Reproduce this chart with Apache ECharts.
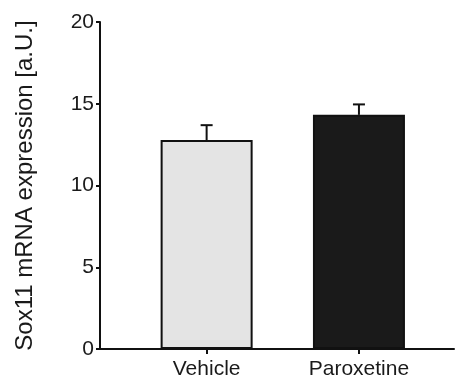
<!DOCTYPE html>
<html>
<head>
<meta charset="utf-8">
<script src="https://cdn.jsdelivr.net/npm/echarts@6/dist/echarts.min.js"></script>
<style>
html, body { margin: 0; padding: 0; background: #fff; }
#chart { width: 455px; height: 381px; }
</style>
</head>
<body>
<div id="chart"></div>
<script>
// data
var groups = ['Vehicle', 'Paroxetine'];
var groupPos = [1, 2];
var means = [12.78, 14.32];
var sem = [0.91, 0.64];
var fills = ['#e4e4e4', '#1a1a1a'];
var yTicks = [0, 5, 10, 15, 20];

var chart = echarts.init(document.getElementById('chart'));

var barData = groupPos.map(function (p, i) {
    return { value: [p, means[i]], itemStyle: { color: fills[i] } };
});
var errData = groupPos.map(function (p, i) {
    return [p, means[i], means[i] + sem[i]];
});

chart.setOption({
    animation: false,
    textStyle: { fontFamily: 'Liberation Sans, Arial, sans-serif' },
    grid: { left: 100, right: 1, top: 22, bottom: 32 },
    xAxis: {
        type: 'value',
        min: 0.3,
        max: 2.624,
        splitLine: { show: false },
        axisLine: { lineStyle: { color: '#111', width: 2 } },
        axisTick: {
            show: true,
            customValues: groupPos,
            length: 5,
            lineStyle: { color: '#111', width: 2 }
        },
        axisLabel: {
            customValues: groupPos,
            fontSize: 21,
            color: '#1a1a1a',
            margin: 10,
            formatter: function (v) {
                var i = groupPos.indexOf(Math.round(v));
                return i >= 0 ? groups[i] : '';
            }
        }
    },
    yAxis: {
        type: 'value',
        min: yTicks[0],
        max: yTicks[yTicks.length - 1],
        interval: 5,
        name: 'Sox11 mRNA expression [a.U.]',
        nameLocation: 'middle',
        nameGap: 63,
        nameTextStyle: { fontSize: 24, color: '#1a1a1a' },
        splitLine: { show: false },
        axisLine: { show: true, lineStyle: { color: '#111', width: 2 } },
        axisTick: { show: true, length: 4, lineStyle: { color: '#111', width: 2 } },
        axisLabel: { fontSize: 21, color: '#1a1a1a', margin: 6 }
    },
    series: [
        {
            type: 'bar',
            barWidth: 92,
            data: barData,
            itemStyle: { borderColor: '#111', borderWidth: 2 },
            z: 2
        },
        {
            type: 'custom',
            data: errData,
            z: 3,
            renderItem: function (params, api) {
                var x = api.value(0);
                var base = api.coord([x, api.value(1)]);
                var top = api.coord([x, api.value(2)]);
                var style = { stroke: '#111', lineWidth: 2 };
                return {
                    type: 'group',
                    children: [
                        { type: 'line', shape: { x1: base[0], y1: base[1], x2: top[0], y2: top[1] }, style: style },
                        { type: 'line', shape: { x1: top[0] - 6, y1: top[1], x2: top[0] + 6, y2: top[1] }, style: style }
                    ]
                };
            }
        }
    ]
});
</script>
</body>
</html>
